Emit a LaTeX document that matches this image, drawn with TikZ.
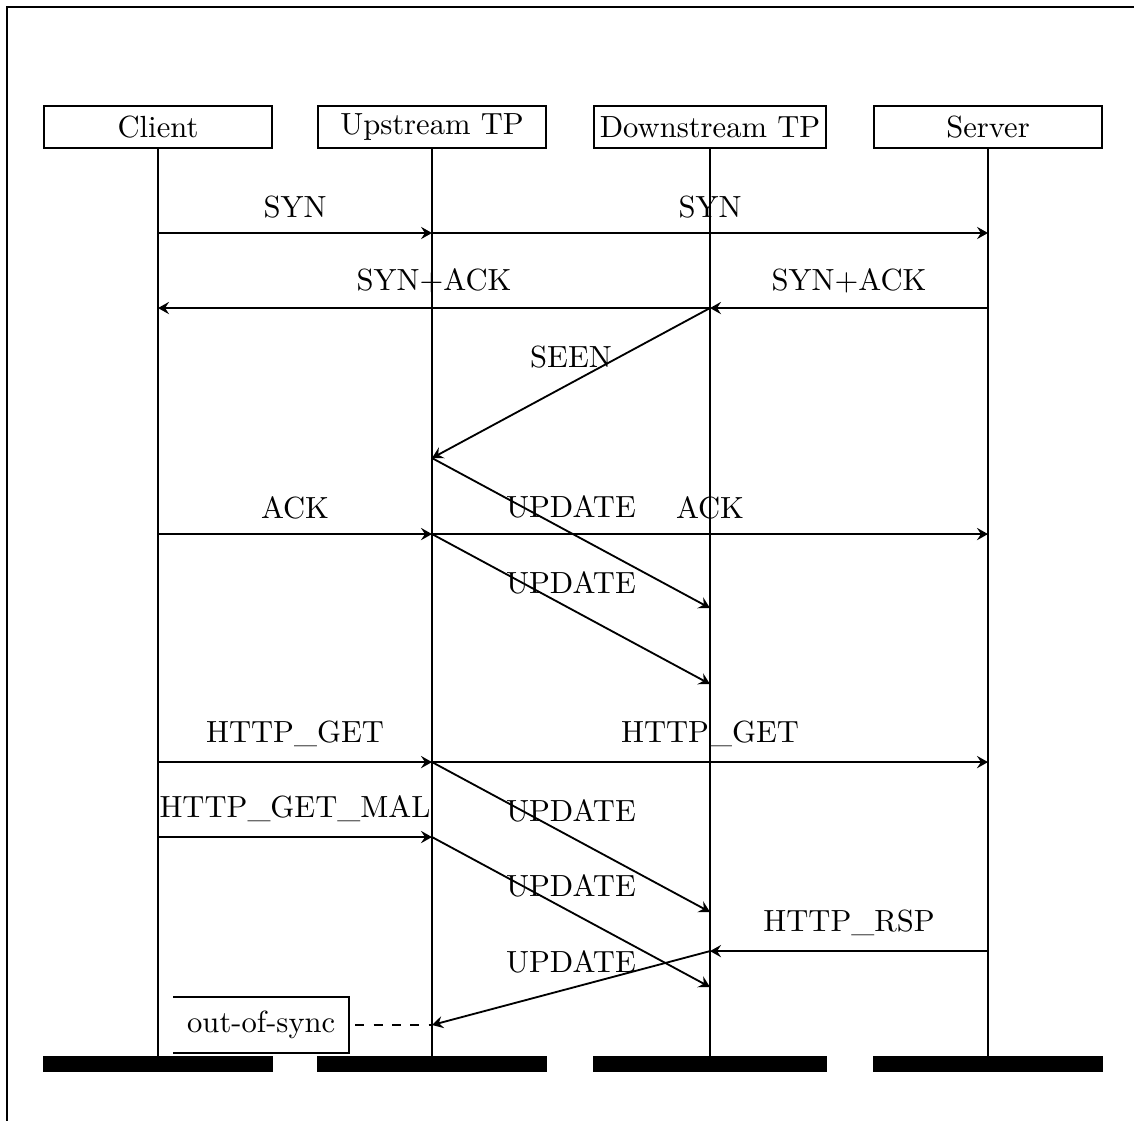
\documentclass[tikz,border=0pt]{standalone}
\usetikzlibrary{calc,arrows.meta}

\begin{document}
\begin{tikzpicture}[
    head/.style={draw, semithick, minimum width=2.62cm, minimum height=0.48cm, inner sep=2pt},
    msg/.style={->, semithick},
    lbl/.style={above=1.3pt},
    >={Stealth[length=3.6pt, width=4pt, inset=1.3pt]}
]

\useasboundingbox (0,0) rectangle (13.025,-12.865);
\draw[semithick] (0.08,-0.08) rectangle (13.3,-13.1);

% Instances
\node[head] (C) at (1.815,-1.459) {Client};
\node[head] (U) at (4.962,-1.459) {Upstream TP};
\node[head] (D) at (8.155,-1.459) {Downstream TP};
\node[head] (S) at (11.348,-1.459) {Server};

% Message levels
\coordinate (syn) at (0,-2.676);
\coordinate (synack) at (0,-3.538);
\coordinate (seen) at (0,-5.261);
\coordinate (ack) at (0,-6.134);
\coordinate (upa) at (0,-6.984);
\coordinate (upb) at (0,-7.857);
\coordinate (get) at (0,-8.753);
\coordinate (mal) at (0,-9.614);
\coordinate (upc) at (0,-10.475);
\coordinate (rsp) at (0,-10.924);
\coordinate (upd) at (0,-11.337);
\coordinate (oos) at (0,-11.773);
\coordinate (bottom) at (0,-12.13);

% Lifelines and end bars
\foreach \n/\w in {C/semithick,U/semithick,D/thick,S/semithick} {
  \draw[\w] (\n.south) -- (\n |- bottom);
  \fill (\n.west |- bottom) rectangle ($(\n.east |- bottom)+(0,-0.184)$);
}

% Handshake
\draw[msg] (C |- syn) -- node[lbl] {SYN} (U |- syn);
\draw[msg] (U |- syn) -- node[lbl] {SYN} (S |- syn);
\draw[msg] (S |- synack) -- node[lbl] {SYN+ACK} (D |- synack);
\draw[msg] (D |- synack) -- node[lbl] {SYN+ACK} (C |- synack);
\draw[msg] (D |- synack) -- node[lbl] {SEEN} (U |- seen);
\draw[msg] (C |- ack) -- node[lbl] {ACK} (U |- ack);
\draw[msg] (U |- ack) -- node[lbl] {ACK} (S |- ack);
\draw[msg] (U |- seen) -- node[lbl] {UPDATE} (D |- upa);
\draw[msg] (U |- ack) -- node[lbl] {UPDATE} (D |- upb);

% Requests
\draw[msg] (C |- get) -- node[lbl] {HTTP\_GET} (U |- get);
\draw[msg] (U |- get) -- node[lbl] {HTTP\_GET} (S |- get);
\draw[msg] (C |- mal) -- node[lbl] {HTTP\_GET\_MAL} (U |- mal);
\draw[msg] (U |- get) -- node[lbl] {UPDATE} (D |- upc);
\draw[msg] (U |- mal) -- node[lbl] {UPDATE} (D |- upd);
\draw[msg] (S |- rsp) -- node[lbl] {HTTP\_RSP} (D |- rsp);
\draw[msg] (D |- rsp) -- node[lbl] {UPDATE} (U |- oos);

% Out-of-sync note
\node[inner sep=4.3pt, anchor=east] (note) at ($(U |- oos)+(-0.953,0)$) {out-of-sync};
\draw[semithick] (note.north west) -- (note.north east) -- (note.south east) -- (note.south west);
\draw[semithick, dashed, shorten <=2pt] (note.east) -- (U |- oos);

\end{tikzpicture}
\end{document}
